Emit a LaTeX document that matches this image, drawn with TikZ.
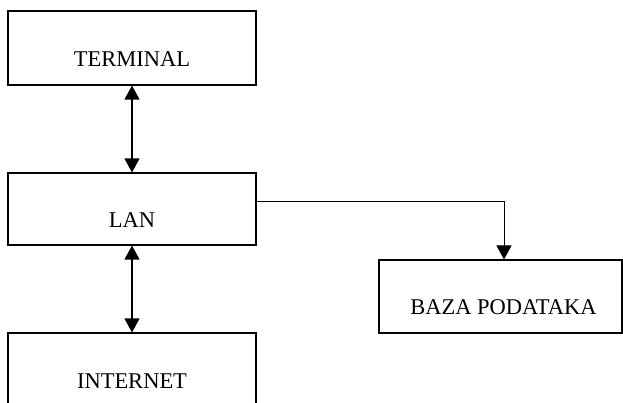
\documentclass[tikz,border=0pt]{standalone}
\usepackage{fontspec}
\setmainfont{Liberation Serif}
\usetikzlibrary{arrows.meta}
\tikzset{
  box/.style={draw,rectangle,line width=1.1pt,minimum width=248pt,minimum height=74pt,inner sep=0pt},
  lbl/.style={font=\fontsize{22.5}{27}\selectfont,inner sep=0pt},
  tip/.style={Triangle[width=15pt,length=14pt]},
  link/.style={line width=1.2pt,{Triangle[width=15pt,length=14pt]}-{Triangle[width=15pt,length=14pt]}},
}
\begin{document}
\begin{tikzpicture}[x=1pt,y=-1pt]
\clip (0,0) rectangle (623,402);

% Boxes
\node[box] (terminal) at (132,48) {};
\node[box,minimum height=72pt] (lan) at (132,209) {};
\node[box] (internet) at (132,370) {};
\node[box,minimum width=243pt,minimum height=73pt] (baza) at (500.5,296.5) {};

% Labels
\node[lbl] (terminaltxt) at ([yshift=-11pt]terminal.center) {TERMINAL};
\node[lbl] (lantxt) at ([yshift=-11pt]lan.center) {LAN};
\node[lbl] (internettxt) at ([yshift=-11pt]internet.center) {INTERNET};
\node[lbl] (bazatxt) at ([yshift=-11pt,xshift=3pt]baza.center) {BAZA PODATAKA};

% Links
\draw[link] (terminal) -- (lan);
\draw[link] (lan) -- (internet);
\draw[line width=1pt,-{Triangle[width=15pt,length=14pt]}] ([yshift=8pt]lan.east) -| ([xshift=3.5pt]baza.north);
\end{tikzpicture}
\end{document}
